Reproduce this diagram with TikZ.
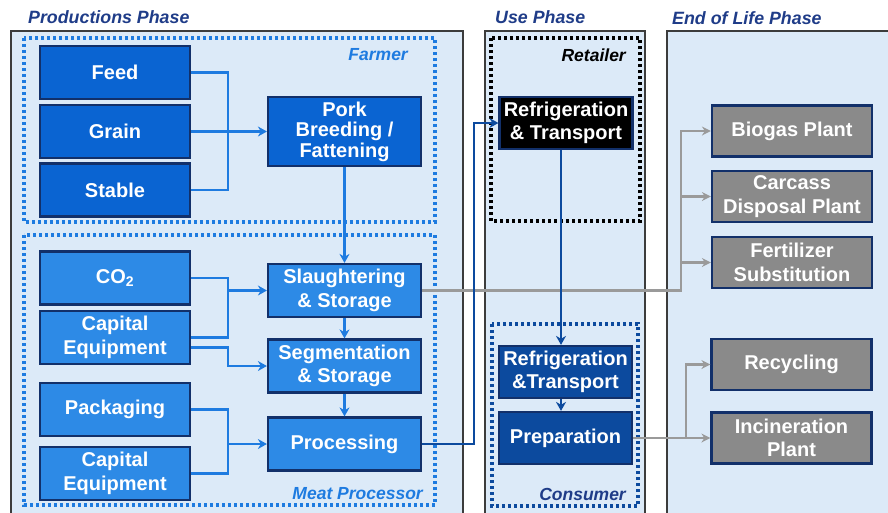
\documentclass[tikz,border=0pt]{standalone}
\usepackage{fontspec}
\setmainfont{Liberation Sans}
\usetikzlibrary{arrows.meta}

\definecolor{panelfill}{HTML}{DCEAF8}
\definecolor{panelline}{HTML}{3C3C3C}
\definecolor{farmblue}{HTML}{0A64D2}
\definecolor{meatblue}{HTML}{2D8AE6}
\definecolor{boxline}{HTML}{12306A}
\definecolor{flowblue}{HTML}{1E7BE0}
\definecolor{navy}{HTML}{0C4A9E}
\definecolor{titleblue}{HTML}{1F3C88}
\definecolor{greybox}{HTML}{8A8A8A}
\definecolor{greyline}{HTML}{9A9A9A}

\tikzstyle{box}=[draw=boxline, line width=2.2pt, text=white, align=center,
  inner sep=1pt, font=\bfseries\fontsize{20}{23.5}\selectfont]
\tikzstyle{farmbox}=[box, fill=farmblue, minimum width=150pt, minimum height=53pt]
\tikzstyle{meatbox}=[box, fill=meatblue, minimum width=150pt, minimum height=53pt]
\tikzstyle{stepbox}=[box, fill=meatblue, minimum width=153pt, minimum height=53pt]
\tikzstyle{usebox}=[box, fill=navy, minimum width=133pt, minimum height=52pt]
\tikzstyle{endbox}=[box, fill=greybox, minimum width=160pt, minimum height=51pt]
\tikzstyle{panel}=[fill=panelfill, draw=panelline, line width=2.2pt]
\tikzstyle{group}=[dash pattern=on 3pt off 3pt, line width=3.2pt]
\tikzstyle{phase}=[anchor=west, inner sep=0pt, text=titleblue,
  font=\bfseries\itshape\fontsize{17.8}{20}\selectfont]
\tikzstyle{role}=[anchor=east, inner sep=0pt, font=\bfseries\itshape\fontsize{17.5}{20}\selectfont]
\tikzstyle{line}=[flowblue, line width=2.6pt]
\tikzstyle{arrow}=[line, -{Stealth[length=9pt,width=10pt]}]
\tikzstyle{darrow}=[navy, line width=2.8pt, -{Stealth[length=9pt,width=10pt]}]
\tikzstyle{garrow}=[greyline, line width=2.8pt, -{Stealth[length=9pt,width=9pt]}]

\begin{document}
\begin{tikzpicture}[x=1pt, y=-1pt]
      \useasboundingbox (0, 0) rectangle (888, 512);

      % phases
      \fill[panel] (11, 31) rectangle (463, 520);
      \fill[panel] (485, 31) rectangle (645, 520);
      \fill[panel] (667, 31) rectangle (895, 520);
      \node[phase] (prodt) at (28, 17) {Productions Phase};
      \node[phase] (uset) at (495, 17) {Use Phase};
      \node[phase] (endt) at (672, 18) {End of Life Phase};

      % actors
      \draw[group, flowblue] (24, 38) rectangle (435, 222);
      \draw[group, flowblue] (24, 235) rectangle (435, 505);
      \draw[group, black] (491, 38) rectangle (640, 221);
      \draw[group, navy] (492, 324) rectangle (638, 506);
      \node[role, text=flowblue] (farmt) at (408, 55) {Farmer};
      \node[role, text=flowblue] (meatt) at (423, 494) {Meat Processor};
      \node[role, text=black] (retailt) at (626, 55) {Retailer};
      \node[role, text=titleblue] (const) at (626, 494) {Consumer};

      \node[farmbox] (feed) at (115, 72.5) {Feed};
      \node[farmbox] (grain) at (115, 131.5) {Grain};
      \node[farmbox] (stable) at (115, 190) {Stable};
      \node[farmbox, minimum width=153pt, minimum height=69pt,
        font=\bfseries\fontsize{20}{20.5}\selectfont] (pork) at (344.5, 131.5)
        {Pork\\Breeding /\\Fattening};

      \node[meatbox] (co2) at (115, 278) {CO\textsubscript{2}};
      \node[meatbox] (capa) at (115, 337.5) {Capital\\Equipment};
      \node[meatbox] (pack) at (115, 409.5) {Packaging};
      \node[meatbox] (capb) at (115, 473.5) {Capital\\Equipment};
      \node[stepbox] (slaughter) at (344.5, 290.5) {Slaughtering\\\& Storage};
      \node[stepbox] (segment) at (344.5, 366) {Segmentation\\\& Storage};
      \node[stepbox] (process) at (344.5, 444) {Processing};

      \node[usebox, fill=black] (retailrt) at (566, 123) {Refrigeration\\\& Transport};
      \node[usebox] (consrt) at (565.5, 372) {Refrigeration\\\&Transport};
      \node[usebox] (prep) at (565.5, 438) {Preparation};

      \node[endbox] (biogas) at (792, 131) {Biogas Plant};
      \node[endbox] (carcass) at (792, 196.5) {Carcass\\Disposal Plant};
      \node[endbox] (fert) at (792, 262.5) {Fertilizer\\Substitution};
      \node[endbox] (recyc) at (791.5, 364.5) {Recycling};
      \node[endbox] (incin) at (791.5, 438) {Incineration\\Plant};

      \coordinate (fj) at (228, 131);
      \coordinate (cj) at (228, 300);
      \coordinate (pj) at (228, 440);
      \coordinate (uj) at (474, 300);
      \coordinate (ej) at (681, 200);
      \coordinate (rj) at (686, 400);

      % farmer flows
      \draw[line] (feed.east) -| (fj) |- (stable.east);
      \draw[arrow] (grain.east) to (pork.west);
      \draw[arrow] (pork.south) to (slaughter.north);

      % meat processor flows
      \draw[line] (co2.east) -| (cj) |- (capa.east);
      \draw[arrow] (cj |- slaughter.west) to (slaughter.west);
      \draw[arrow] ([yshift=-10pt]capa.east) -| (cj |- segment.west) to (segment.west);
      \draw[line] (pack.east) -| (pj) |- (capb.east);
      \draw[arrow] (pj |- process.west) to (process.west);
      \draw[arrow] (slaughter.south) to (segment.north);
      \draw[arrow] (segment.south) to (process.north);

      % waste to end of life
      \draw[garrow] (slaughter.east) -| (ej) |- (biogas.west);
      \draw[garrow] (ej |- carcass.west) to (carcass.west);
      \draw[garrow] (ej |- fert.west) to (fert.west);
      \draw[garrow] (prep.east) to (incin.west);
      \draw[garrow] (rj |- prep.east) |- (recyc.west);

      % use phase
      \draw[darrow] (process.east) -| (uj) |- (retailrt.west);
      \draw[darrow] ([xshift=-5pt]retailrt.south) to ([xshift=-4.5pt]consrt.north);
      \draw[darrow] ([xshift=-4.5pt]consrt.south) to ([xshift=-4.5pt]prep.north);
    \end{tikzpicture}
\end{document}
